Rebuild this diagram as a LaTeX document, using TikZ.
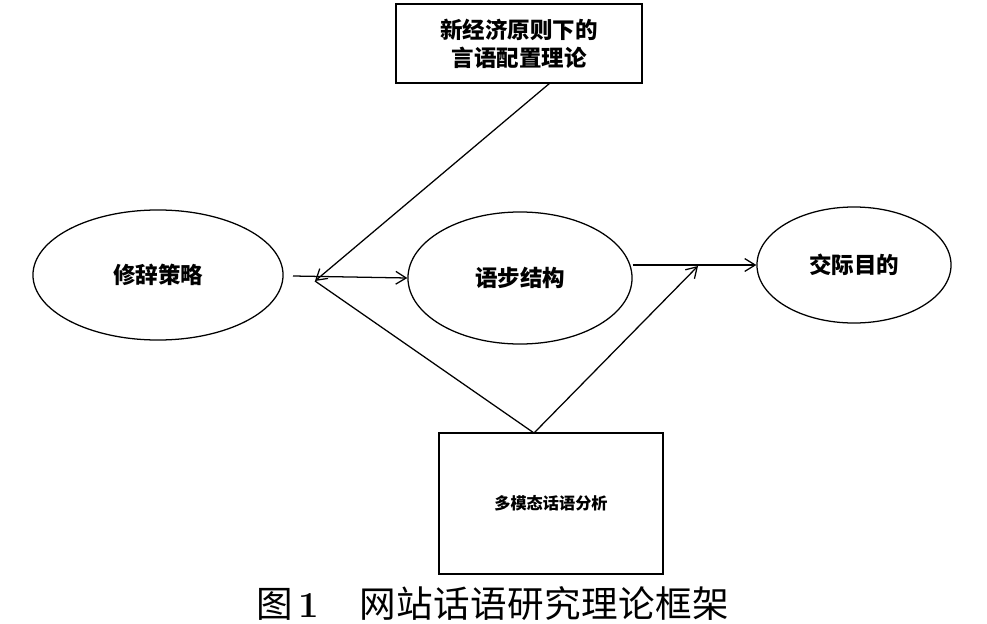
\documentclass[tikz,border=0pt]{standalone}
\usepackage{fontspec}
\newfontfamily\cjk{Noto Sans CJK SC}
\usetikzlibrary{shapes.geometric,arrows.meta}

\tikzset{
  oval/.style={draw, ellipse, line width=0.9pt, inner sep=0pt,
    font=\cjk\bfseries\fontsize{16}{18}\selectfont},
  theory/.style={draw, rectangle, line width=0.9pt, inner sep=0pt, align=center},
  link/.style={line width=0.9pt, -{Straight Barb[length=2.6mm,width=3.2mm]}},
  plain/.style={line width=0.9pt}
}

\begin{document}
\begin{tikzpicture}[x=0.025cm, y=-0.025cm]

\useasboundingbox (0,0) rectangle (987,624);

\node[oval, minimum width=6.25cm, minimum height=3.25cm] (rhet) at (158,275) {修辞策略};
\node[oval, minimum width=5.6cm, minimum height=3.3cm] (move) at (520,278) {语步结构};
\node[oval, minimum width=4.85cm, minimum height=2.9cm] (goal) at (854,265) {交际目的};

\node[theory, minimum width=6.15cm, minimum height=1.98cm,
  font=\cjk\bfseries\fontsize{16}{20}\selectfont] (econ) at (519,43.5) {新经济原则下的\\言语配置理论};
\node[theory, minimum width=5.6cm, minimum height=3.52cm,
  font=\cjk\bfseries\fontsize{11.5}{14}\selectfont] (multi) at (551,503.5) {多模态话语分析};

\coordinate (start) at (293,276);
\coordinate (meet) at (315,281);
\coordinate (drop) at (550,83);
\coordinate (apex) at (534,433);
\coordinate (join) at (698,266);

\draw [link] (start) -- (move.west);
\draw [link] (drop) -- (meet);
\draw [plain] (apex) -- (meet);
\draw [link] (apex) -- (join);
\draw [link] (move.east |- goal.west) -- (goal.west);

\node[anchor=west, inner sep=0pt] (caption) at (256,604) {\cjk\fontsize{26}{30}\selectfont 图\hspace{0.15em}{\normalfont\bfseries\fontsize{26}{30}\selectfont 1}\hspace{1.1em}\addfontfeature{LetterSpace=1.2}网站话语研究理论框架};

\end{tikzpicture}
\end{document}
